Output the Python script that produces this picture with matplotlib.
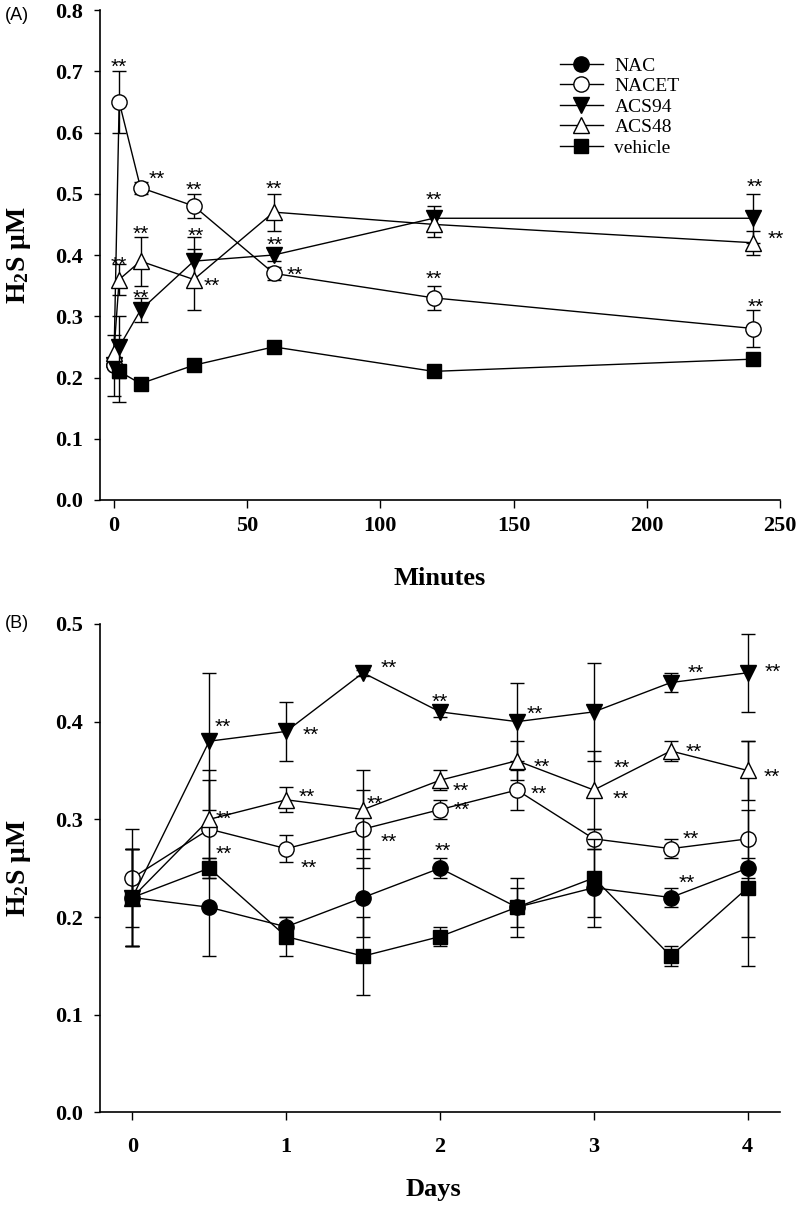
import numpy as np
import matplotlib
matplotlib.use('Agg')
import matplotlib.pyplot as plt

plt.rcParams['font.family'] = 'Liberation Serif'
plt.rcParams['mathtext.fontset'] = 'custom'
plt.rcParams['mathtext.rm'] = 'Liberation Serif:bold'
plt.rcParams['mathtext.it'] = 'Liberation Serif:bold'
plt.rcParams['mathtext.bf'] = 'Liberation Serif:bold'

series_names = ['NAC', 'NACET', 'ACS94', 'ACS48', 'vehicle']

# panel A, minutes
nac_a_x = [0]
nac_a_y = [0.22]
nac_a_err = [0.05]
nacet_a_x = [0, 2, 10, 30, 60, 120, 240]
nacet_a_y = [0.22, 0.65, 0.51, 0.48, 0.37, 0.33, 0.28]
nacet_a_err = [0, 0.05, 0.01, 0.02, 0.01, 0.02, 0.03]
acs94_a_x = [0, 2, 10, 30, 60, 120, 240]
acs94_a_y = [0.22, 0.25, 0.31, 0.39, 0.40, 0.46, 0.46]
acs94_a_err = [0, 0.05, 0.02, 0.04, 0.01, 0.02, 0.04]
acs48_a_x = [0, 2, 10, 30, 60, 120, 240]
acs48_a_y = [0.24, 0.36, 0.39, 0.36, 0.47, 0.45, 0.42]
acs48_a_err = [0, 0.025, 0.04, 0.05, 0.03, 0.02, 0.02]
vehicle_a_x = [2, 10, 30, 60, 120, 240]
vehicle_a_y = [0.21, 0.19, 0.22, 0.25, 0.21, 0.23]
vehicle_a_err = [0.05, 0, 0, 0, 0, 0]

# panel B, days
days = [0, 0.5, 1, 1.5, 2, 2.5, 3, 3.5, 4]
nac_b_y = [0.22, 0.21, 0.19, 0.22, 0.25, 0.21, 0.23, 0.22, 0.25]
nac_b_err = [0.05, 0.05, 0.01, 0.04, 0.01, 0.03, 0.04, 0.01, 0.01]
nacet_b_y = [0.24, 0.29, 0.27, 0.29, 0.31, 0.33, 0.28, 0.27, 0.28]
nacet_b_err = [0.05, 0.05, 0.014, 0.04, 0.01, 0.02, 0.01, 0.01, 0.10]
acs94_b_y = [0.22, 0.38, 0.39, 0.45, 0.41, 0.40, 0.41, 0.44, 0.45]
acs94_b_err = [0.05, 0.07, 0.03, 0.003, 0.005, 0.04, 0.05, 0.01, 0.04]
acs48_b_y = [0.22, 0.30, 0.32, 0.31, 0.34, 0.36, 0.33, 0.37, 0.35]
acs48_b_err = [0.05, 0.05, 0.013, 0.04, 0.01, 0.02, 0.04, 0.01, 0.03]
vehicle_b_y = [0.22, 0.25, 0.18, 0.16, 0.18, 0.21, 0.24, 0.16, 0.23]
vehicle_b_err = [0.05, 0.01, 0.02, 0.04, 0.01, 0.02, 0.04, 0.01, 0.08]

# significance marks: (series, x, offset right px, offset down px)
stars_a = [
    ('NACET', 2, 0, -41), ('NACET', 10, 16, -15), ('NACET', 30, 0, -22),
    ('ACS48', 60, 0, -29), ('ACS94', 60, 1, -16), ('NACET', 60, 21, -5),
    ('ACS48', 2, 0, -21), ('ACS48', 10, 0, -33), ('ACS94', 10, 0, -18),
    ('ACS94', 30, 2, -31), ('ACS48', 30, 18, 0),
    ('ACS94', 120, 0, -25), ('NACET', 120, 0, -25),
    ('ACS94', 240, 1, -38), ('ACS48', 240, 22, -10), ('NACET', 240, 2, -28),
]
stars_b = [
    ('ACS94', 0.5, 14, -20), ('ACS94', 1, 25, -3), ('ACS94', 1.5, 26, -11),
    ('ACS94', 2, 0, -16), ('ACS94', 2.5, 18, -14), ('ACS94', 3.5, 25, -16),
    ('ACS94', 4, 25, -7),
    ('ACS48', 0.5, 15, -7), ('ACS48', 1, 21, -9), ('ACS48', 1.5, 12, -12),
    ('ACS48', 2, 21, 4), ('ACS48', 2.5, 25, 0), ('ACS48', 3, 28, -28),
    ('ACS48', 3, 27, 3), ('ACS48', 3.5, 23, -5), ('ACS48', 4, 24, 0),
    ('NACET', 0.5, 15, 19), ('NACET', 1, 23, 13), ('NACET', 1.5, 26, 7),
    ('NACET', 2, 22, -6), ('NACET', 2.5, 22, -2), ('NACET', 3.5, 20, -16),
    ('NAC', 2, 3, -23), ('NAC', 3.5, 16, -21),
]

markers = {'NAC': ('o', 'black', 11), 'NACET': ('o', 'white', 11),
           'ACS94': ('v', 'black', 11), 'ACS48': ('^', 'white', 11),
           'vehicle': ('s', 'black', 9.5)}


def draw_series(ax, name, x, y, err, z):
    x = np.asarray(x, dtype=float)
    y = np.asarray(y, dtype=float)
    err = np.asarray(err, dtype=float)
    keep = err > 0
    if keep.any():
        ax.errorbar(x[keep], y[keep], yerr=err[keep], fmt='none', ecolor='black',
                    elinewidth=1, capsize=5, capthick=1, zorder=z)
    m, face, size = markers[name]
    line, = ax.plot(x, y, color='black', lw=1, marker=m, ms=size, mfc=face,
                    mec='black', mew=1, zorder=z + 0.5, label=name)
    return line


def add_stars(ax, stars, table):
    for name, xv, dx, dy in stars:
        xs, ys = table[name]
        yv = ys[list(xs).index(xv)]
        ax.annotate('**', (xv, yv), xytext=(dx * 0.72, -dy * 0.72 - 8.7),
                    textcoords='offset points', ha='center', va='baseline',
                    fontsize=15, family='Liberation Sans', annotation_clip=False)


def style_axes(ax, xpad):
    for side in ['top', 'right']:
        ax.spines[side].set_visible(False)
    for side in ['left', 'bottom']:
        ax.spines[side].set_linewidth(1.2)
    ax.tick_params(axis='y', direction='out', length=4, width=1, pad=8.5, labelsize=16)
    ax.tick_params(axis='x', direction='out', length=6, width=1, pad=xpad, labelsize=16)
    for lab in ax.get_xticklabels() + ax.get_yticklabels():
        lab.set_fontweight('bold')


fig = plt.figure(figsize=(8, 12.08), dpi=100)
ax_a = fig.add_axes([0.125, 0.5861, 0.85, 0.4056])
ax_b = fig.add_axes([0.125, 0.0791, 0.85, 0.4044])

data_a = {
    'NAC': (nac_a_x, nac_a_y, nac_a_err),
    'NACET': (nacet_a_x, nacet_a_y, nacet_a_err),
    'ACS94': (acs94_a_x, acs94_a_y, acs94_a_err),
    'ACS48': (acs48_a_x, acs48_a_y, acs48_a_err),
    'vehicle': (vehicle_a_x, vehicle_a_y, vehicle_a_err),
}
data_b = {
    'NAC': (days, nac_b_y, nac_b_err),
    'NACET': (days, nacet_b_y, nacet_b_err),
    'ACS94': (days, acs94_b_y, acs94_b_err),
    'ACS48': (days, acs48_b_y, acs48_b_err),
    'vehicle': (days, vehicle_b_y, vehicle_b_err),
}

handles = []
for i, name in enumerate(series_names):
    x, y, err = data_a[name]
    handles.append(draw_series(ax_a, name, x, y, err, 2 + i))
    x, y, err = data_b[name]
    draw_series(ax_b, name, x, y, err, 2 + i)

add_stars(ax_a, stars_a, {k: v[:2] for k, v in data_a.items()})
add_stars(ax_b, stars_b, {k: v[:2] for k, v in data_b.items()})

ax_a.set_xlim(-5.2, 250)
ax_a.set_ylim(0, 0.8)
ax_a.set_xticks(np.arange(0, 251, 50))
ax_a.set_yticks(np.arange(0, 0.81, 0.1))
ax_a.set_yticklabels([f'{v:.1f}' for v in np.arange(0, 0.81, 0.1)])
style_axes(ax_a, 5.5)

ax_b.set_xlim(-0.21, 4.21)
ax_b.set_ylim(0, 0.5)
ax_b.set_xticks(np.arange(0, 5, 1))
ax_b.set_yticks(np.arange(0, 0.51, 0.1))
ax_b.set_yticklabels([f'{v:.1f}' for v in np.arange(0, 0.51, 0.1)])
style_axes(ax_b, 12)

for ax in [ax_a, ax_b]:
    ax.set_ylabel(r'H$_\mathrm{2}$S μM', fontsize=20, fontweight='bold')
    ax.yaxis.set_label_coords(-0.0985, 0.5)

ax_a.set_xlabel('Minutes', fontsize=19, fontweight='bold')
ax_a.xaxis.set_label_coords(0.5, -0.137)
ax_b.set_xlabel('Days', fontsize=19, fontweight='bold')
ax_b.xaxis.set_label_coords(0.49, -0.135)

ax_a.legend(handles, series_names, loc='upper left',
            bbox_to_anchor=(560 / 800, 1 - 57 / 1208), bbox_transform=fig.transFigure,
            frameon=False, borderpad=0, borderaxespad=0, handlelength=2.2,
            handletextpad=0.6, labelspacing=0.15,
            prop={'family': 'Liberation Serif', 'size': 14})

fig.text(5 / 800, 1 - 15 / 1208, '(A)', family='Liberation Sans', fontsize=13,
         ha='left', va='center')
fig.text(5 / 800, 1 - 624 / 1208, '(B)', family='Liberation Sans', fontsize=13,
         ha='left', va='center')

fig.savefig('out.png', dpi=100)
plt.close(fig)
